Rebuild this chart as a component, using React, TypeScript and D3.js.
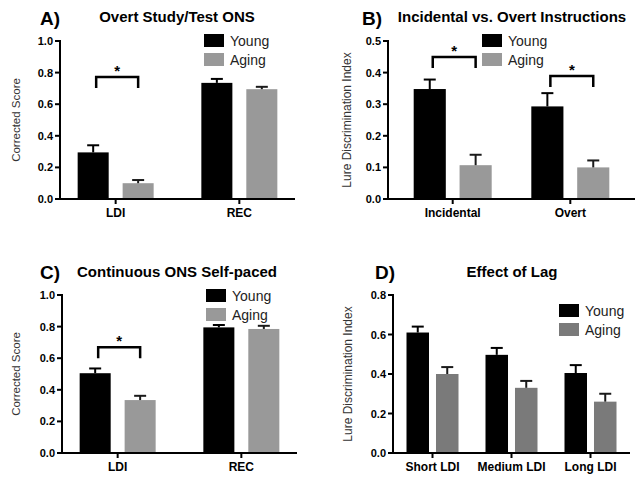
import React from "react";
import * as d3 from "d3";

// ---------- Data ----------
const seriesNames = ["Young", "Aging"];

const groupsA = ["LDI", "REC"];
const youngA = [0.295, 0.735];
const youngErrA = [0.045, 0.025];
const agingA = [0.1, 0.695];
const agingErrA = [0.02, 0.015];

const groupsB = ["Incidental", "Overt"];
const youngB = [0.348, 0.293];
const youngErrB = [0.03, 0.042];
const agingB = [0.107, 0.1];
const agingErrB = [0.033, 0.022];

const groupsC = ["LDI", "REC"];
const youngC = [0.505, 0.795];
const youngErrC = [0.03, 0.015];
const agingC = [0.335, 0.785];
const agingErrC = [0.027, 0.02];

const groupsD = ["Short LDI", "Medium LDI", "Long LDI"];
const youngD = [0.61, 0.497, 0.405];
const youngErrD = [0.03, 0.035, 0.04];
const agingD = [0.4, 0.33, 0.26];
const agingErrD = [0.035, 0.035, 0.04];

const ticksA = [0, 0.2, 0.4, 0.6, 0.8, 1.0];
const ticksB = [0, 0.1, 0.2, 0.3, 0.4, 0.5];
const ticksC = [0, 0.2, 0.4, 0.6, 0.8, 1.0];
const ticksD = [0, 0.2, 0.4, 0.6, 0.8];

// significance brackets: group index, top level (data units)
const sigA = [{ group: 0, level: 0.772 }];
const sigB = [
  { group: 0, level: 0.449 },
  { group: 1, level: 0.389 },
];
const sigC = [{ group: 0, level: 0.67 }];
const sigD: { group: number; level: number }[] = [];

const FONT = "'Liberation Sans', Arial, Helvetica, sans-serif";

type PanelProps = {
  letter: string;
  title: string;
  titleX: number;
  titleY: number;
  letterX: number;
  letterY: number;
  yLabel: string;
  yLabelX: number;
  yLabelSize: number;
  groups: string[];
  young: number[];
  youngErr: number[];
  aging: number[];
  agingErr: number[];
  ticks: number[];
  yMax: number;
  x0: number;
  x1: number;
  y0: number;
  y1: number;
  pad: number;
  inner: number;
  innerPad: number;
  agingColor: string;
  legendX: number;
  legendY: number;
  sig: { group: number; level: number }[];
};

function Panel(p: PanelProps) {
  const y = d3.scaleLinear().domain([0, p.yMax]).range([p.y0, p.y1]);
  const x = d3.scalePoint<string>().domain(p.groups).range([p.x0, p.x1]).padding(p.pad);
  const xi = d3
    .scaleBand<string>()
    .domain(seriesNames)
    .range([-p.inner, p.inner])
    .paddingInner(p.innerPad)
    .paddingOuter(0);
  const bw = xi.bandwidth();
  const series = [
    { name: "Young", vals: p.young, errs: p.youngErr, color: "#000000", ec: "#000" },
    { name: "Aging", vals: p.aging, errs: p.agingErr, color: p.agingColor, ec: "#1a1a1a" },
  ];
  return (
    <g>
      <text x={p.letterX} y={p.letterY} fontFamily={FONT} fontWeight="bold" fontSize={19}>
        {p.letter}
      </text>
      <text x={p.titleX} y={p.titleY} textAnchor="middle" fontFamily={FONT} fontWeight="bold" fontSize={15}>
        {p.title}
      </text>
      <text
        transform={`translate(${p.yLabelX},${(p.y0 + p.y1) / 2}) rotate(-90)`}
        textAnchor="middle"
        fontFamily={FONT}
        fontSize={p.yLabelSize}
        fill="#333"
      >
        {p.yLabel}
      </text>
      {/* bars */}
      {series.map((s) =>
        p.groups.map((g, i) => {
          const cx = (x(g) as number) + (xi(s.name) as number);
          const top = y(s.vals[i]);
          const et = y(s.vals[i] + s.errs[i]);
          return (
            <g key={s.name + g}>
              <rect x={cx} y={top} width={bw} height={p.y0 - top} fill={s.color} />
              <line x1={cx + bw / 2} x2={cx + bw / 2} y1={top} y2={et} stroke={s.ec} strokeWidth={2} />
              <line x1={cx + bw / 2 - 6} x2={cx + bw / 2 + 6} y1={et} y2={et} stroke={s.ec} strokeWidth={2} />
            </g>
          );
        })
      )}
      {/* y axis */}
      <line x1={p.x0} x2={p.x0} y1={p.y0 + 1} y2={p.y1 - 1} stroke="#000" strokeWidth={2} />
      {p.ticks.map((t) => (
        <g key={t}>
          <line x1={p.x0 - 5} x2={p.x0} y1={y(t)} y2={y(t)} stroke="#000" strokeWidth={2} />
          <text
            x={p.x0 - 7}
            y={y(t) + 4}
            textAnchor="end"
            fontFamily={FONT}
            fontWeight="bold"
            fontSize={11}
          >
            {d3.format(".1f")(t)}
          </text>
        </g>
      ))}
      {/* x axis */}
      <line x1={p.x0 - 1} x2={p.x1} y1={p.y0} y2={p.y0} stroke="#000" strokeWidth={2} />
      {p.groups.map((g) => (
        <g key={g}>
          <line x1={x(g)} x2={x(g)} y1={p.y0} y2={p.y0 + 5} stroke="#000" strokeWidth={2} />
          <text
            x={x(g)}
            y={p.y0 + 18}
            textAnchor="middle"
            fontFamily={FONT}
            fontWeight="bold"
            fontSize={12}
          >
            {g}
          </text>
        </g>
      ))}
      {/* significance */}
      {p.sig.map((s, k) => {
        const g = p.groups[s.group];
        const xa = (x(g) as number) + (xi("Young") as number) + bw / 2 + 3;
        const xb = (x(g) as number) + (xi("Aging") as number) + bw / 2;
        const ty = y(s.level);
        return (
          <g key={k}>
            <path
              d={`M${xa},${ty + 11}V${ty}H${xb}V${ty + 11}`}
              fill="none"
              stroke="#000"
              strokeWidth={2.5}
            />
            <text
              x={(xa + xb) / 2}
              y={ty - 1}
              textAnchor="middle"
              fontFamily={FONT}
              fontWeight="bold"
              fontSize={15}
            >
              *
            </text>
          </g>
        );
      })}
      {/* legend */}
      {series.map((s, k) => (
        <g key={s.name}>
          <rect x={p.legendX} y={p.legendY + k * 19} width={20} height={13} fill={s.color} />
          <text
            x={p.legendX + 26}
            y={p.legendY + k * 19 + 12}
            fontFamily={FONT}
            fontSize={14}
            fill="#222"
          >
            {s.name}
          </text>
        </g>
      ))}
    </g>
  );
}

export default function App() {
  return (
    <svg
      width={641}
      height={484}
      style={{ position: "absolute", left: 0, top: 0, background: "#fff" }}
    >
      <rect width={641} height={484} fill="#fff" />
      <Panel
        letter="A)"
        title="Overt Study/Test ONS"
        titleX={177}
        titleY={22}
        letterX={40}
        letterY={25}
        yLabel="Corrected Score"
        yLabelX={20}
        yLabelSize={11.5}
        groups={groupsA}
        young={youngA}
        youngErr={youngErrA}
        aging={agingA}
        agingErr={agingErrA}
        ticks={ticksA}
        yMax={1}
        x0={60}
        x1={295}
        y0={199}
        y1={41}
        pad={0.45}
        inner={38}
        innerPad={0.31}
        agingColor="#999999"
        legendX={204}
        legendY={34}
        sig={sigA}
      />
      <Panel
        letter="B)"
        title="Incidental vs. Overt Instructions"
        titleX={512}
        titleY={22}
        letterX={362}
        letterY={25}
        yLabel="Lure Discrimination Index"
        yLabelX={351}
        yLabelSize={12}
        groups={groupsB}
        young={youngB}
        youngErr={youngErrB}
        aging={agingB}
        agingErr={agingErrB}
        ticks={ticksB}
        yMax={0.5}
        x0={388}
        x1={635}
        y0={199}
        y1={41}
        pad={0.55}
        inner={39}
        innerPad={0.3}
        agingColor="#999999"
        legendX={482}
        legendY={34}
        sig={sigB}
      />
      <Panel
        letter="C)"
        title="Continuous ONS Self-paced"
        titleX={177}
        titleY={277}
        letterX={40}
        letterY={279}
        yLabel="Corrected Score"
        yLabelX={20}
        yLabelSize={11.5}
        groups={groupsC}
        young={youngC}
        youngErr={youngErrC}
        aging={agingC}
        agingErr={agingErrC}
        ticks={ticksC}
        yMax={1}
        x0={62}
        x1={297}
        y0={453}
        y1={295}
        pad={0.45}
        inner={38}
        innerPad={0.31}
        agingColor="#999999"
        legendX={206}
        legendY={289}
        sig={sigC}
      />
      <Panel
        letter="D)"
        title="Effect of Lag"
        titleX={512}
        titleY={277}
        letterX={375}
        letterY={279}
        yLabel="Lure Discrimination Index"
        yLabelX={352}
        yLabelSize={12}
        groups={groupsD}
        young={youngD}
        youngErr={youngErrD}
        aging={agingD}
        agingErr={agingErrD}
        ticks={ticksD}
        yMax={0.8}
        x0={393}
        x1={630}
        y0={453}
        y1={295}
        pad={0.5}
        inner={26}
        innerPad={0.237}
        agingColor="#7a7a7a"
        legendX={559}
        legendY={304}
        sig={sigD}
      />
    </svg>
  );
}
